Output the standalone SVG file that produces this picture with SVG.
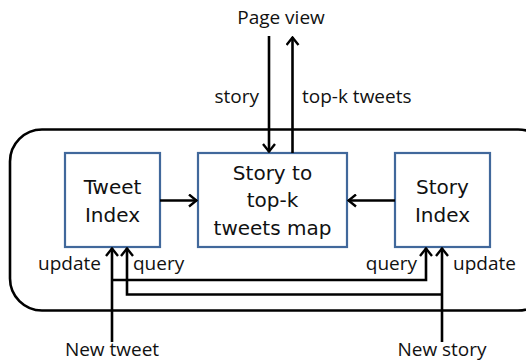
<svg xmlns="http://www.w3.org/2000/svg" width="526" height="362" viewBox="0 0 526 362">
  <style>
    .box { fill: #ffffff; stroke: #41689b; stroke-width: 2.2; }
    .frame { fill: none; stroke: #000; stroke-width: 2.6; }
    .wire { fill: none; stroke: #000; stroke-width: 2.6; }
    .arr { marker-end: url(#head); }
    .node-text { font-family: "DejaVu Sans", sans-serif; font-size: 20px; fill: #111; text-anchor: middle; }
    .label { font-family: "Open Sans", "Liberation Sans", sans-serif; font-size: 19px; fill: #111; }
  </style>
  <defs>
    <marker id="head" viewBox="0 0 12 14" refX="11" refY="7" markerWidth="12" markerHeight="14" markerUnits="userSpaceOnUse" orient="auto">
      <path d="M3,1 L10.5,7 L3,13" fill="none" stroke="#000" stroke-width="2.4"/>
    </marker>
  </defs>
  <rect width="526" height="362" fill="#ffffff"/>

  <!-- system boundary -->
  <rect class="frame" x="10" y="129.5" width="540" height="181" rx="32" ry="32"/>

  <g id="tweet-index">
    <rect class="box" x="65" y="153" width="95" height="94"/>
    <text class="node-text" x="112.5" y="194">Tweet</text>
    <text class="node-text" x="112.5" y="222">Index</text>
  </g>

  <g id="story-map">
    <rect class="box" x="198" y="153" width="149" height="94"/>
    <text class="node-text" x="272.5" y="180">Story to</text>
    <text class="node-text" x="272.5" y="207">top-k</text>
    <text class="node-text" x="272.5" y="235">tweets map</text>
  </g>

  <g id="story-index">
    <rect class="box" x="395" y="153" width="95" height="94"/>
    <text class="node-text" x="442.5" y="194">Story</text>
    <text class="node-text" x="442.5" y="222">Index</text>
  </g>

  <g id="connectors">
    <!-- index outputs into the map -->
    <line class="wire arr" x1="160" y1="200.5" x2="197" y2="200.5"/>
    <line class="wire arr" x1="395" y1="200.5" x2="348" y2="200.5"/>
    <!-- page view request and response -->
    <line class="wire arr" x1="269" y1="36" x2="269" y2="152"/>
    <line class="wire arr" x1="292.5" y1="153" x2="292.5" y2="37"/>
    <!-- new tweet: update tweet index, query story index -->
    <line class="wire arr" x1="112" y1="342" x2="112" y2="248"/>
    <polyline class="wire arr" points="112,280 426,280 426,248"/>
    <!-- new story: update story index, query tweet index -->
    <line class="wire arr" x1="442" y1="342" x2="442" y2="248"/>
    <polyline class="wire arr" points="442,294.5 127,294.5 127,248"/>
  </g>

  <g id="labels">
    <text class="label" x="281" y="24" text-anchor="middle">Page view</text>
    <text class="label" x="259" y="103" text-anchor="end">story</text>
    <text class="label" x="302" y="103">top-k tweets</text>
    <text class="label" x="101" y="270" text-anchor="end">update</text>
    <text class="label" x="133" y="270">query</text>
    <text class="label" x="417" y="270" text-anchor="end">query</text>
    <text class="label" x="453" y="270">update</text>
    <text class="label" x="112" y="356" text-anchor="middle">New tweet</text>
    <text class="label" x="442" y="356" text-anchor="middle">New story</text>
  </g>
</svg>
